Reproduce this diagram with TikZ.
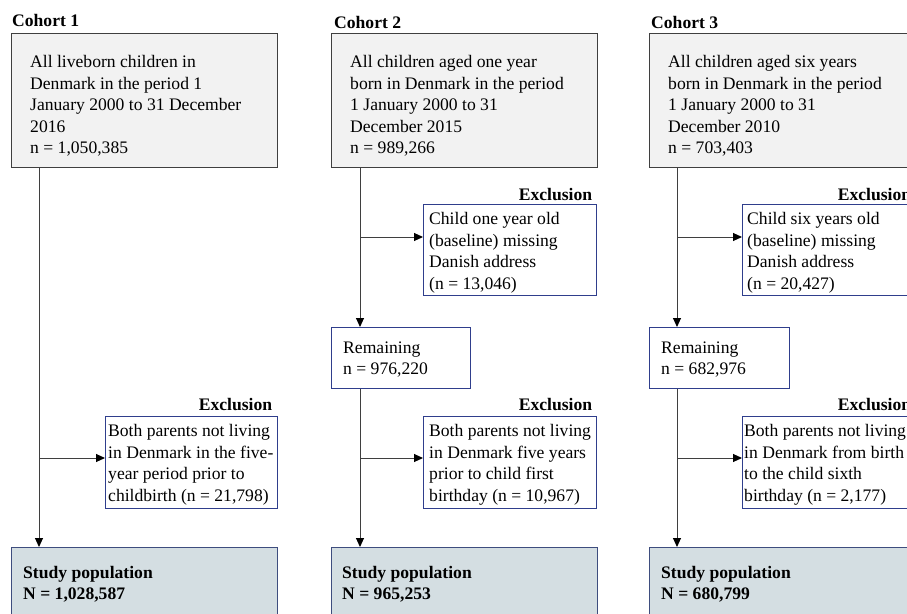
\documentclass[tikz,border=0pt]{standalone}
\usepackage{fontspec}
\setmainfont{Liberation Serif}
\usetikzlibrary{arrows.meta,calc}
\definecolor{boxgray}{HTML}{F2F2F2}
\definecolor{edgegray}{HTML}{3F3F3F}
\definecolor{exblue}{HTML}{2F3E8C}
\definecolor{popfill}{HTML}{D4DEE2}
\definecolor{popedge}{HTML}{3E4D7E}
\tikzset{
	boxbase/.style={rectangle, anchor=north west, inner sep=0pt, line width=1.4pt},
	topbox/.style={boxbase, draw=edgegray, fill=boxgray, minimum width=266pt, minimum height=134pt},
	exbox/.style={boxbase, draw=exblue, fill=white, minimum width=173pt, minimum height=92pt},
	rembox/.style={boxbase, draw=exblue, fill=white, minimum width=139pt, minimum height=61pt},
	popbox/.style={boxbase, draw=popedge, fill=popfill, minimum width=266pt, minimum height=78pt},
	txt/.style={anchor=north west, inner sep=0pt, align=left, font=\fontsize{17.6}{21.5}\selectfont},
	boldtxt/.style={txt, font=\fontsize{17.6}{21.5}\selectfont\bfseries},
	hdr/.style={inner sep=0pt, font=\fontsize{17.6}{21.5}\selectfont\bfseries},
	flow/.style={draw=edgegray, line width=1pt, -{Triangle[length=9pt,width=8pt,color=black]}}
}

\begin{document}
\begin{tikzpicture}[x=1pt, y=-1pt]
		%%%%% START %%%%%
		\useasboundingbox (0,0) rectangle (907,613);
		\clip (0,0) rectangle (907,613);
		
		% cohort 1
		\node[hdr, anchor=base west] (coh1) at (12,26) {Cohort 1};
		\node[topbox] (top1) at (11,33) {};
		\node[txt] (top1t) at (30,55.5) {All liveborn children in\\Denmark in the period 1\\January 2000 to 31 December\\2016\\n = 1,050,385};
		
		\node[exbox, minimum width=172pt] (ex1) at (105,416) {};
		\node[txt] (ex1t) at (108,424.5) {Both parents not living\\in Denmark in the five-\\year period prior to\\childbirth (n = 21,798)};
		\node[hdr, anchor=base east] (ex1h) at ([xshift=-6pt,yshift=6pt]ex1.north east) {Exclusion};
		
		\node[popbox] (st1) at (11,547) {};
		\node[boldtxt] (st1t) at (23,566) {Study population\\N = 1,028,587};
		
		% cohort 2
		\node[hdr, anchor=base west] (coh2) at (334,28) {Cohort 2};
		\node[topbox] (top2) at (331,33) {};
		\node[txt] (top2t) at (350,55.5) {All children aged one year\\born in Denmark in the period\\1 January 2000 to 31\\December 2015\\n = 989,266};
		
		\node[exbox, minimum height=91pt] (ex2a) at (423,204) {};
		\node[txt] (ex2at) at (429,212.5) {Child one year old\\(baseline) missing\\Danish address\\(n = 13,046)};
		\node[hdr, anchor=base east] (ex2ah) at ([xshift=-5pt,yshift=4pt]ex2a.north east) {Exclusion};
		
		\node[rembox] (rem2) at (331,327) {};
		\node[txt] (rem2t) at (343,341.5) {Remaining\\n = 976,220};
		
		\node[exbox] (ex2b) at (423,416) {};
		\node[txt] (ex2bt) at (429,424.5) {Both parents not living\\in Denmark five years\\prior to child first\\birthday (n = 10,967)};
		\node[hdr, anchor=base east] (ex2bh) at ([xshift=-5pt,yshift=6pt]ex2b.north east) {Exclusion};
		
		\node[popbox] (st2) at (331,547) {};
		\node[boldtxt] (st2t) at (342,566) {Study population\\N = 965,253};
		
		% cohort 3
		\node[hdr, anchor=base west] (coh3) at (651,28) {Cohort 3};
		\node[topbox] (top3) at (649,33) {};
		\node[txt] (top3t) at (668,55.5) {All children aged six years\\born in Denmark in the period\\1 January 2000 to 31\\December 2010\\n = 703,403};
		
		\node[exbox, minimum height=91pt] (ex3a) at (742,204) {};
		\node[txt] (ex3at) at (747,212.5) {Child six years old\\(baseline) missing\\Danish address\\(n = 20,427)};
		\node[hdr, anchor=base east] (ex3ah) at ([xshift=-5pt,yshift=4pt]ex3a.north east) {Exclusion};
		
		\node[rembox, minimum width=140pt] (rem3) at (649,327) {};
		\node[txt] (rem3t) at (661,341.5) {Remaining\\n = 682,976};
		
		\node[exbox] (ex3b) at (742,416) {};
		\node[txt] (ex3bt) at (744,424.5) {Both parents not living\\in Denmark from birth\\to the child sixth\\birthday (n = 2,177)};
		\node[hdr, anchor=base east] (ex3bh) at ([xshift=-5pt,yshift=6pt]ex3b.north east) {Exclusion};
		
		\node[popbox] (st3) at (649,547) {};
		\node[boldtxt] (st3t) at (661,566) {Study population\\N = 680,799};
		
		% spines and branches
		\coordinate (sp1) at ([xshift=28pt]top1.south west);
		\coordinate (sp2) at ([xshift=29pt]top2.south west);
		\coordinate (sp3) at ([xshift=28pt]top3.south west);
		\coordinate (in1) at ([yshift=-42pt]ex1.north west);
		\coordinate (in2a) at ([yshift=-33pt]ex2a.north west);
		\coordinate (in2b) at ([yshift=-42pt]ex2b.north west);
		\coordinate (in3a) at ([yshift=-33pt]ex3a.north west);
		\coordinate (in3b) at ([yshift=-42pt]ex3b.north west);
		
		\draw[flow] (sp1) -- (sp1 |- st1.north);
		\draw[flow] (sp1 |- in1) -- (in1);
		
		\draw[flow] (sp2) -- (sp2 |- rem2.north);
		\draw[flow] (sp2 |- in2a) -- (in2a);
		\draw[flow] (sp2 |- rem2.south) -- (sp2 |- st2.north);
		\draw[flow] (sp2 |- in2b) -- (in2b);
		
		\draw[flow] (sp3) -- (sp3 |- rem3.north);
		\draw[flow] (sp3 |- in3a) -- (in3a);
		\draw[flow] (sp3 |- rem3.south) -- (sp3 |- st3.north);
		\draw[flow] (sp3 |- in3b) -- (in3b);
		
		%%%%% END %%%%%
	\end{tikzpicture}
\end{document}
